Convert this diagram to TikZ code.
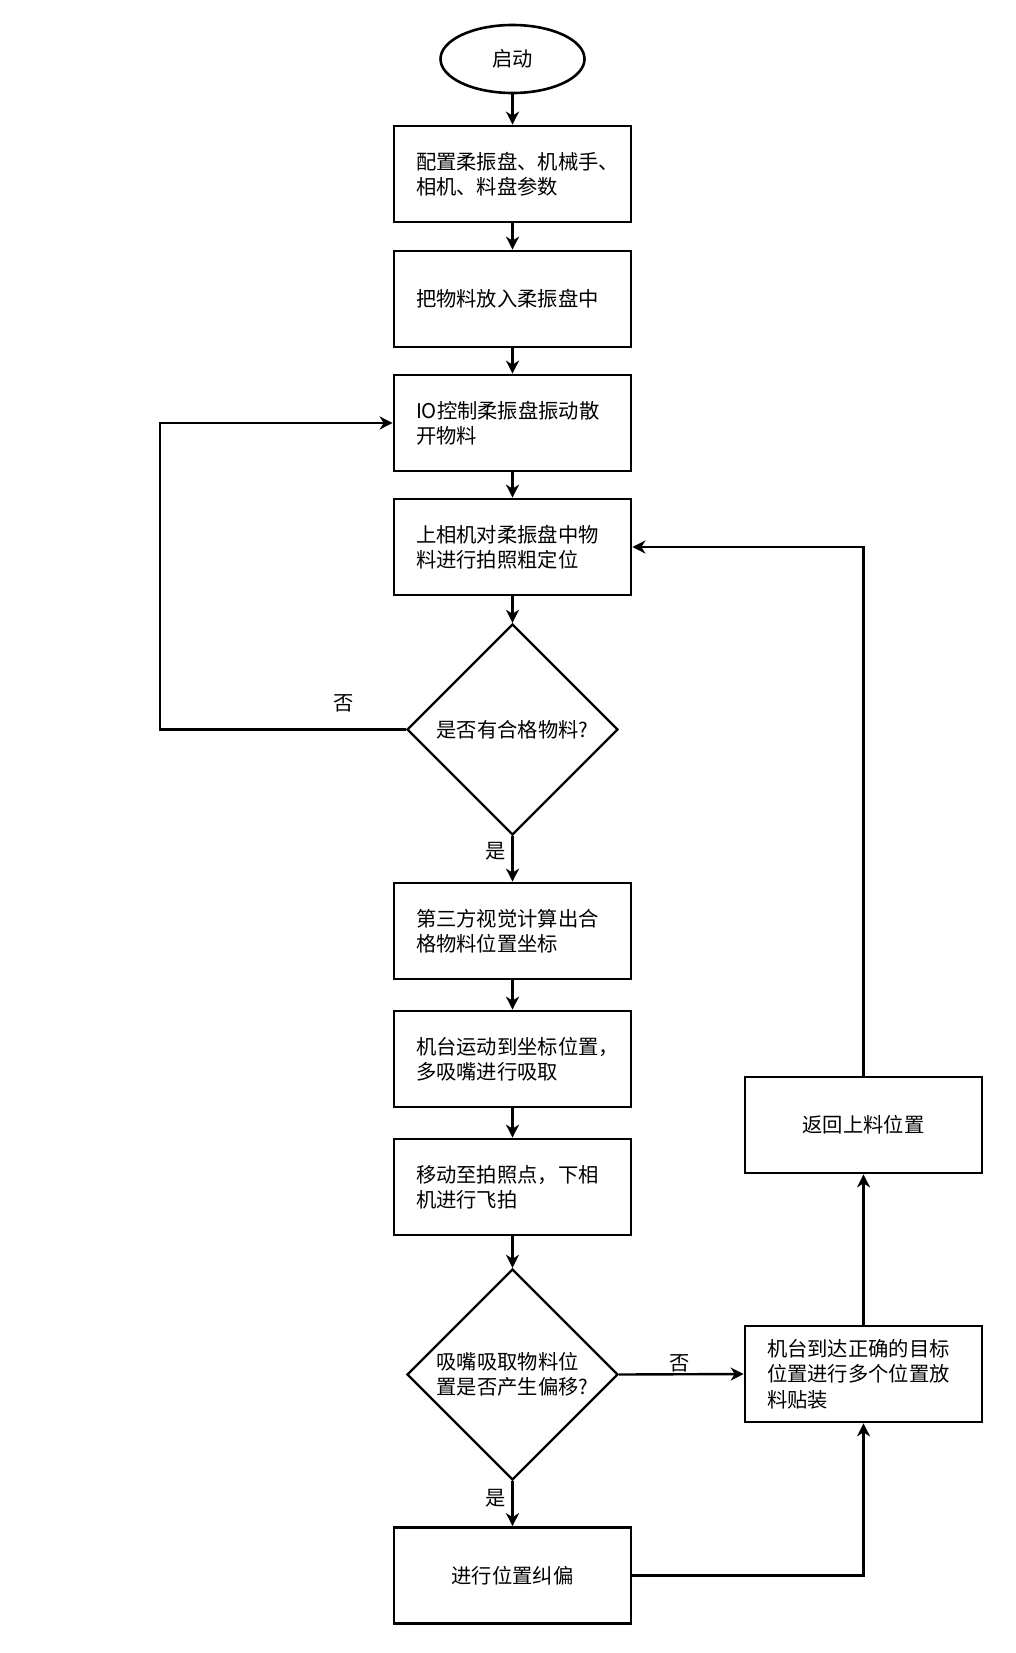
\documentclass[tikz,border=0pt]{standalone}
\usepackage{fontspec}
\setmainfont{Noto Sans CJK SC}
\usetikzlibrary{shapes.geometric,arrows.meta}
\begin{document}
\begin{tikzpicture}[x=1pt,y=-1pt,
  every node/.style={font=\fontsize{20.3}{25.3}\selectfont},
  stepbox/.style={draw, line width=2.7pt, minimum width=237pt, minimum height=96pt, inner sep=0pt, text width=193pt, align=left},
  onebox/.style={stepbox, align=center},
  decide/.style={draw, diamond, aspect=1, line width=2.4pt, minimum width=211pt, minimum height=211pt, inner sep=0pt, align=left},
  startnode/.style={draw, ellipse, line width=2.6pt, minimum width=144pt, minimum height=68pt, inner sep=0pt},
  conn/.style={line width=2.4pt, -{Stealth[length=13pt,width=13pt,inset=4pt]}},
  lbl/.style={inner sep=0pt}]
\useasboundingbox[fill=white] (0,0) rectangle (1015,1653);

\node[startnode] (start) at (512.5,59) {启动};
\node[stepbox] (b1) at (512.5,174) {配置柔振盘、机械手、\\相机、料盘参数};
\node[stepbox] (b2) at (512.5,299) {把物料放入柔振盘中};
\node[stepbox] (b3) at (512.5,423) {IO控制柔振盘振动散\\开物料};
\node[stepbox] (b4) at (512.5,547) {上相机对柔振盘中物\\料进行拍照粗定位};
\node[decide, align=center] (d1) at (512.5,729.5) {是否有合格物料?};
\node[stepbox] (b5) at (512.5,931) {第三方视觉计算出合\\格物料位置坐标};
\node[stepbox] (b6) at (512.5,1059) {机台运动到坐标位置，\\多吸嘴进行吸取};
\node[stepbox] (b7) at (512.5,1187) {移动至拍照点，下相\\机进行飞拍};
\node[decide] (d2) at (512.5,1374.5) {吸嘴吸取物料位\\置是否产生偏移?};
\node[onebox] (b8) at (512.5,1575.5) {进行位置纠偏};
\node[stepbox] (ba) at (863.5,1374) {机台到达正确的目标\\位置进行多个位置放\\料贴装};
\node[onebox] (bb) at (863.5,1125) {返回上料位置};

\coordinate (l1) at (160,729.5);
\coordinate (l2) at (160,423);
\coordinate (r1) at (863.5,547);

\draw[conn] (start) -- (b1);
\draw[conn] (b1) -- (b2);
\draw[conn] (b2) -- (b3);
\draw[conn] (b3) -- (b4);
\draw[conn] (b4) -- (d1);
\draw[conn] (d1.west) -- (l1) -- (l2) -- (b3.west);
\draw[conn] (d1) -- (b5);
\draw[conn] (b5) -- (b6);
\draw[conn] (b6) -- (b7);
\draw[conn] (b7) -- (d2);
\draw[conn] (d2) -- (b8);
\draw[conn] (d2.east) -- (ba.west);
\draw[conn] (b8.east) -| (ba.south);
\draw[conn] (ba) -- (bb);
\draw[conn] (bb.north) -- (r1) -- (b4.east);

\node[lbl] (no1) at (343.6,703) {否};
\node[lbl] (yes1) at (496,851.6) {是};
\node[lbl] (no2) at (680,1363) {否};
\node[lbl] (yes2) at (496,1498) {是};
\end{tikzpicture}
\end{document}
